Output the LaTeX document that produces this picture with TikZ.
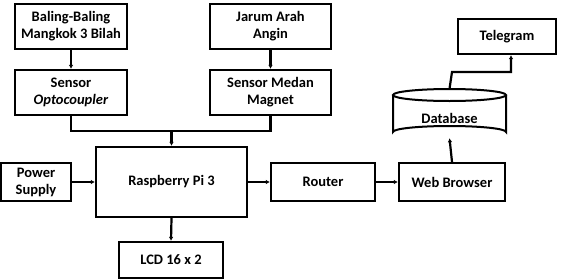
\documentclass[tikz,border=0pt]{standalone}
\usepackage{fontspec}
\setmainfont{Carlito}
\usetikzlibrary{arrows.meta}
\begin{document}
\begin{tikzpicture}[x=1pt,y=-1pt,
  box/.style={draw,line width=2.2pt,rectangle,inner sep=0pt,align=center,
    font=\fontsize{14.5}{17}\selectfont\bfseries},
  plain/.style={inner sep=0pt,align=center,font=\fontsize{14.5}{17}\selectfont\bfseries},
  link/.style={line width=2.2pt,-{Latex[length=4pt,width=4.5pt]}},
  wire/.style={line width=2.2pt}]
\useasboundingbox (0,0) rectangle (564,279);

% sensing chain
\node[box,minimum width=112,minimum height=45] (baling) at (71,26.5) {Baling-Baling\\Mangkok 3 Bilah};
\node[box,minimum width=112,minimum height=45] (opto) at (71,92.5) {Sensor\\\textit{Optocoupler}};
\node[box,minimum width=121,minimum height=45] (jarum) at (270.5,26.5) {Jarum Arah\\Angin};
\node[box,minimum width=121,minimum height=45] (medan) at (270.5,92.5) {Sensor Medan\\Magnet};

% main row
\node[box,minimum width=70,minimum height=38] (power) at (36,182) {Power\\Supply};
\node[box,minimum width=151,minimum height=70] (rasp) at (171.5,182) {Raspberry Pi 3};
\node[box,minimum width=104,minimum height=36] (lcd) at (171,260) {LCD 16 x 2};
\node[box,minimum width=104,minimum height=38] (router) at (323,182) {Router};
\node[box,minimum width=106,minimum height=38] (web) at (452,182) {Web Browser};

% storage and notification: cylinder outline around an invisible frame node
\node[minimum width=113,minimum height=49,inner sep=0pt] (db) at (449.5,113.5) {};
\node[plain] (dbtext) at (449.5,118.5) {Database};
\draw[line width=2pt] (393,95) -- (393,132) arc[start angle=180,end angle=360,x radius=56.5,y radius=6] -- (506,95);
\draw[line width=2pt] (449.5,95) ellipse[x radius=56.5,y radius=6];
\node[box,minimum width=98,minimum height=35] (telegram) at (507,36.5) {Telegram};

% connectors
\coordinate (bus) at (171.5,131);
\draw[link] (baling) -- (opto);
\draw[link] (jarum) -- (medan);
\draw[wire] (opto.south) |- (bus) -| (medan.south);
\draw[link] (bus) -- (rasp.north);
\draw[link] (power) -- (rasp);
\draw[link] (rasp.east) -- (router.west);
\draw[link] (router) -- (web);
\draw[link] (rasp.south) -- (lcd.north);
\draw[link] (web.north) -- (db.south);
\coordinate (bend) at (452,72);
\draw[link] (db.north) -- (bend) -| ([xshift=4pt]telegram.south);
\end{tikzpicture}
\end{document}
